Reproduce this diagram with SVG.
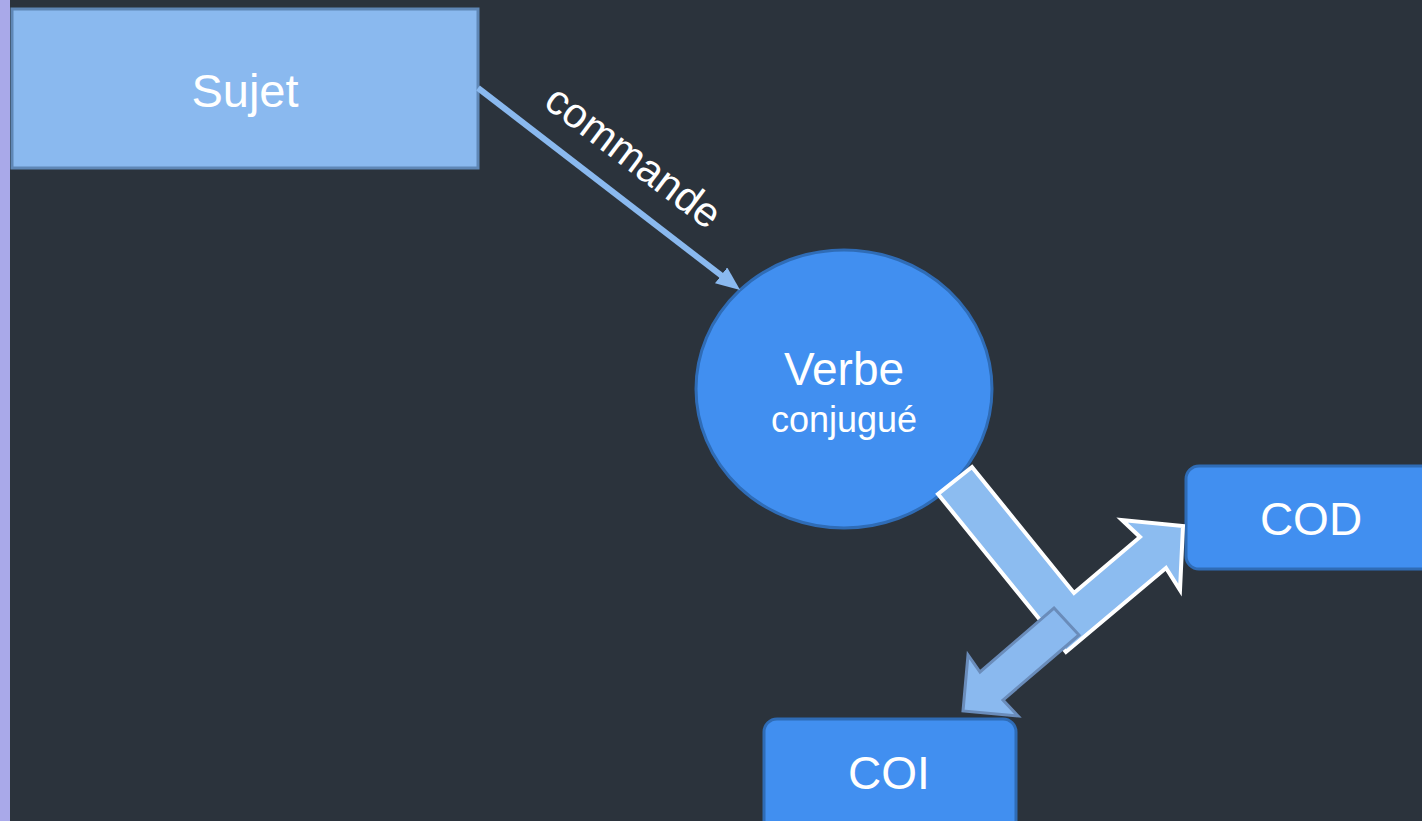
<svg xmlns="http://www.w3.org/2000/svg" width="1422" height="821" viewBox="0 0 1422 821">
<style>
.lbl{font-family:"Liberation Sans",Arial,sans-serif;fill:#ffffff;text-anchor:middle}
.box{fill:#418ff0;stroke:#2f6cb6;stroke-width:3}
</style>
<defs>
<marker id="ah" markerUnits="userSpaceOnUse" markerWidth="24" markerHeight="20" refX="10" refY="10" orient="auto">
<path d="M0,0 L24,10 L0,20 Z" fill="#8ab9ef"/>
</marker>
</defs>
<rect x="0" y="0" width="1422" height="821" fill="#2b333c"/>
<rect x="0" y="0" width="10" height="821" fill="#a9a9e9"/>
<g id="sujet">
<rect x="12" y="9" width="466" height="159" fill="#8ab9ef" stroke="#5f87b6" stroke-width="3"/>
<text class="lbl" x="245" y="107" font-size="47">Sujet</text>
</g>
<g id="verbe">
<ellipse cx="844" cy="389" rx="148" ry="139" fill="#418ff0" stroke="#2f6cb6" stroke-width="3"/>
<text class="lbl" x="844" y="385" font-size="46">Verbe</text>
<text class="lbl" x="844" y="432" font-size="36">conjugué</text>
</g>
<g id="cod">
<rect class="box" x="1186" y="466" width="260" height="103" rx="13"/>
<text class="lbl" x="1311" y="535" font-size="46">COD</text>
</g>
<g id="coi">
<rect class="box" x="764" y="719" width="252" height="120" rx="13"/>
<text class="lbl" x="889" y="789" font-size="46">COI</text>
</g>
<g id="connectors">
<line x1="478" y1="88" x2="729" y2="281.4" stroke="#8ab9ef" stroke-width="6" marker-end="url(#ah)"/>
<text class="lbl" font-size="42" transform="translate(625,168) rotate(37)" x="0" y="0">commande</text>
<polygon points="938,494 972,467 1074,593 1140,537 1122,520 1183,526 1180,590 1166,568 1066,652" fill="#8cbcf0" stroke="#ffffff" stroke-width="4" stroke-linejoin="miter"/>
<polygon points="1054,608 1079,635 1003,700 1018,716 963,711 968,655 980,672" fill="#8ab9ef" stroke="#6a8cba" stroke-width="3"/>
</g>
</svg>
